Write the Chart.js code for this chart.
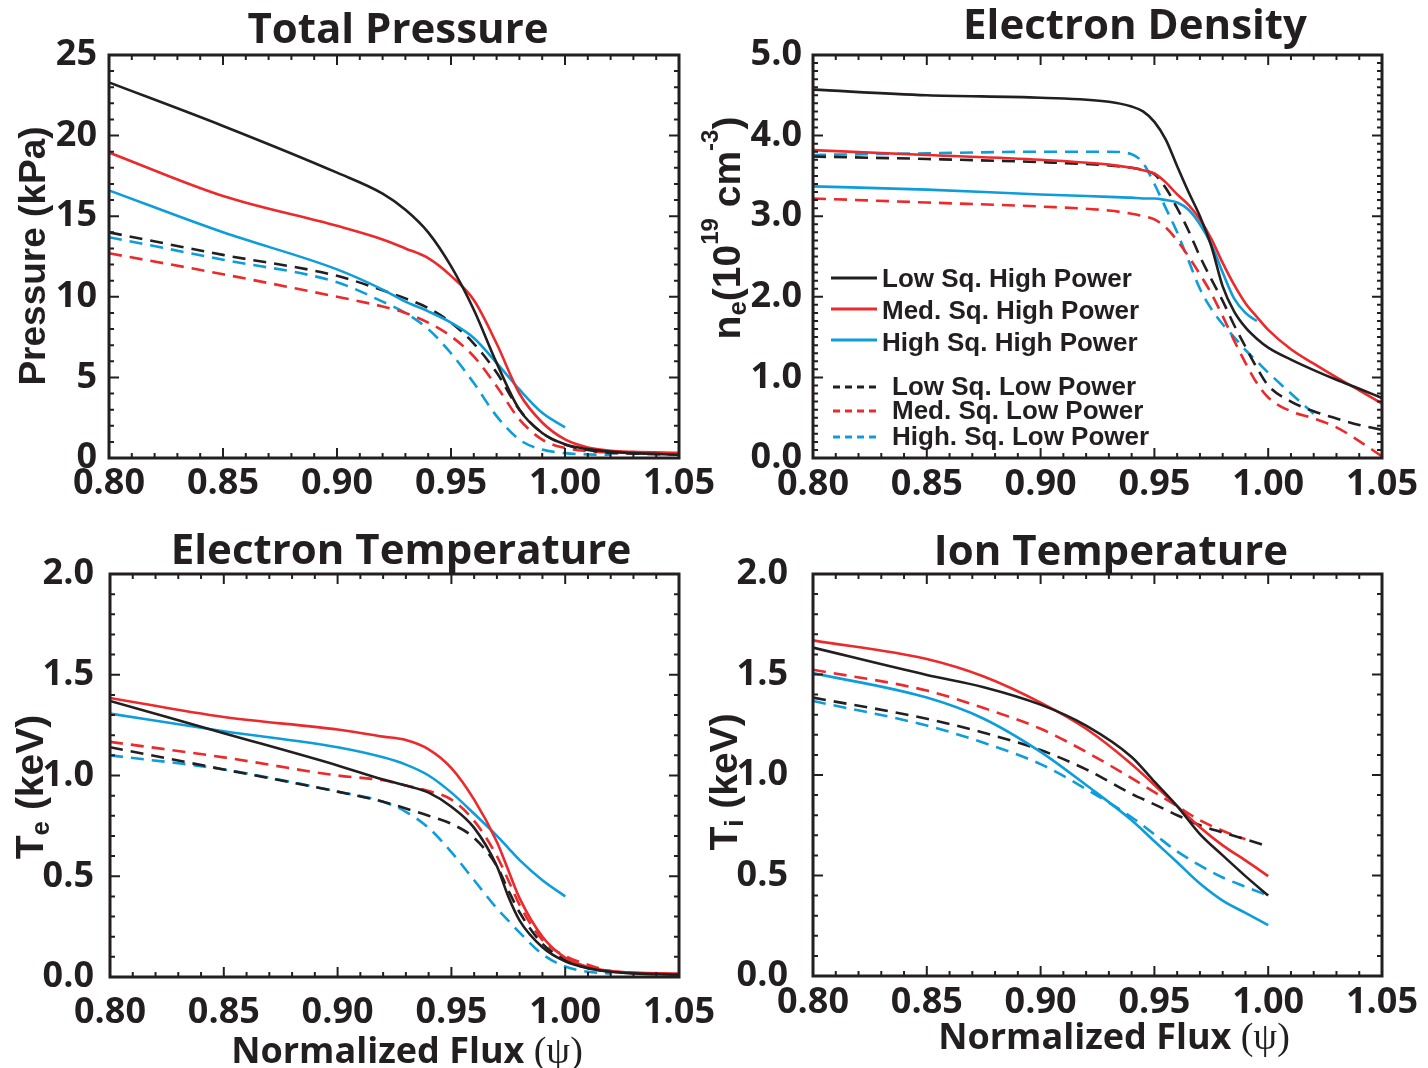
<!DOCTYPE html>
<html>
<head>
<meta charset="utf-8">
<script src="https://cdn.jsdelivr.net/npm/chart.js@4.4.1/dist/chart.umd.min.js"></script>
<style>
html, body { margin: 0; padding: 0; background: #fff; }
#page { position: relative; width: 1428px; height: 1068px; overflow: hidden; }
#page canvas { position: absolute; }
</style>
</head>
<body>
<div id="page">
  <canvas id="pressureChart" width="730" height="520" style="left:0;top:0"></canvas>
  <canvas id="densityChart" width="728" height="520" style="left:700px;top:0"></canvas>
  <canvas id="teChart" width="730" height="548" style="left:0;top:520px"></canvas>
  <canvas id="tiChart" width="728" height="548" style="left:700px;top:520px"></canvas>
</div>
<script>
const INK = '#231f20';
const seriesNames = ['Low Sq. High Power', 'Med. Sq. High Power', 'High Sq. High Power',
                     'Low Sq. Low Power', 'Med. Sq. Low Power', 'High. Sq. Low Power'];
const seriesColors = ['#231f20', '#ec2a2c', '#0d9ddb'];

const psiTicks = [0.80, 0.85, 0.90, 0.95, 1.00, 1.05];
const pressureTicks = [0, 5, 10, 15, 20, 25];
const densityTicks = [0, 1, 2, 3, 4, 5];
const tempTicks = [0, 0.5, 1.0, 1.5, 2.0];

// Total pressure (kPa)
const psiP = [0.80, 0.85, 0.90, 0.92, 0.93, 0.94, 0.95, 0.96, 0.97, 0.98, 0.99, 1.00, 1.01, 1.02, 1.03, 1.05];
const pLowHigh  = [23.3, 20.6, 17.7, 16.4, 15.4, 14.0, 11.9, 9.2, 5.9, 3.0, 1.55, 0.85, 0.55, 0.4, 0.3, 0.2];
const pMedHigh  = [18.95, 16.25, 14.4, 13.56, 13.0, 12.4, 11.3, 9.8, 7.1, 4.0, 2.2, 1.15, 0.65, 0.45, 0.38, 0.32];
const pHighHigh = [16.6, 14.0, 11.7, 10.45, 9.7, 9.1, 8.4, 7.45, 5.9, 4.25, 2.8, 1.9, null, null, null, null];
const pLowLow   = [14.0, 12.6, 11.3, 10.4, 9.9, 9.3, 8.4, 7.1, 5.3, 3.0, 1.55, 0.83, 0.5, 0.32, 0.27, 0.22];
const pMedLow   = [12.7, 11.4, 10.0, 9.4, 9.0, 8.4, 7.55, 6.3, 4.45, 2.4, 1.14, 0.62, 0.42, 0.35, 0.3, 0.26];
const pHighLow  = [13.7, 12.3, 10.9, 9.7, 9.0, 8.0, 6.5, 4.65, 2.6, 1.14, 0.52, 0.3, 0.22, 0.2, null, null];

// Electron density (1e19 m^-3)
const psiN = [0.80, 0.85, 0.90, 0.93, 0.94, 0.945, 0.95, 0.955, 0.96, 0.965, 0.97, 0.975, 0.98, 0.985, 0.99, 0.995, 1.00, 1.01, 1.02, 1.03, 1.04, 1.05];
const nLowHigh  = [4.57, 4.50, 4.47, 4.42, 4.36, 4.30, 4.17, 3.95, 3.62, 3.30, 3.00, 2.63, 2.13, 1.82, 1.62, 1.48, 1.37, 1.22, 1.09, 0.97, 0.86, 0.745];
const nMedHigh  = [3.82, 3.76, 3.70, 3.64, 3.60, 3.57, 3.53, 3.42, 3.27, 3.14, 2.96, 2.72, 2.42, 2.15, 1.92, 1.75, 1.59, 1.35, 1.17, 1.00, 0.84, 0.675];
const nHighHigh = [3.37, 3.33, 3.27, 3.24, 3.23, 3.22, 3.22, 3.20, 3.17, 3.08, 2.90, 2.65, 2.30, 1.98, 1.80, 1.70, null, null, null, null, null, null];
const nLowLow   = [3.74, 3.71, 3.67, 3.63, 3.60, 3.57, 3.52, 3.35, 3.10, 2.82, 2.50, 2.22, 1.95, 1.65, 1.38, 1.12, 0.90, 0.70, 0.58, 0.49, 0.41, 0.35];
const nMedLow   = [3.22, 3.17, 3.12, 3.07, 3.03, 3.00, 2.96, 2.86, 2.70, 2.50, 2.28, 2.04, 1.76, 1.46, 1.18, 0.93, 0.75, 0.58, 0.49, 0.38, 0.21, 0.02];
const nHighLow  = [3.76, 3.78, 3.80, 3.80, 3.77, 3.66, 3.40, 3.10, 2.80, 2.45, 2.10, 1.85, 1.66, 1.50, 1.34, 1.20, 1.06, 0.80, 0.55, null, null, null];

// Electron temperature (keV)
const psiTe = [0.80, 0.85, 0.90, 0.92, 0.93, 0.94, 0.95, 0.96, 0.97, 0.975, 0.98, 0.99, 1.00, 1.01, 1.02, 1.03, 1.05];
const teLowHigh  = [1.37, 1.21, 1.05, 0.98, 0.95, 0.915, 0.845, 0.74, 0.55, 0.40, 0.28, 0.148, 0.078, 0.044, 0.026, 0.018, 0.012];
const teMedHigh  = [1.385, 1.29, 1.228, 1.193, 1.176, 1.13, 1.037, 0.88, 0.67, 0.53, 0.39, 0.20, 0.096, 0.05, 0.03, 0.022, 0.017];
const teHighHigh = [1.307, 1.22, 1.14, 1.09, 1.054, 1.0, 0.915, 0.81, 0.70, 0.64, 0.58, 0.48, 0.40, null, null, null, null];
const teLowLow   = [1.14, 1.03, 0.92, 0.87, 0.836, 0.80, 0.76, 0.69, 0.55, 0.43, 0.32, 0.165, 0.087, 0.044, 0.026, 0.018, 0.012];
const teMedLow   = [1.167, 1.09, 1.0, 0.976, 0.95, 0.923, 0.88, 0.775, 0.60, 0.48, 0.357, 0.183, 0.105, 0.061, 0.03, 0.02, 0.012];
const teHighLow  = [1.10, 1.03, 0.92, 0.87, 0.82, 0.74, 0.62, 0.48, 0.34, 0.28, 0.22, 0.113, 0.052, 0.026, 0.017, null, null];

// Ion temperature (keV)
const psiTi = [0.80, 0.85, 0.875, 0.90, 0.92, 0.94, 0.95, 0.96, 0.97, 0.98, 0.99, 1.00];
const tiLowHigh  = [1.634, 1.498, 1.437, 1.35, 1.246, 1.09, 0.967, 0.845, 0.706, 0.60, 0.497, 0.40];
const tiMedHigh  = [1.67, 1.577, 1.49, 1.36, 1.23, 1.054, 0.95, 0.845, 0.74, 0.65, 0.575, 0.497];
const tiHighHigh = [1.507, 1.385, 1.28, 1.115, 0.95, 0.775, 0.67, 0.566, 0.46, 0.375, 0.314, 0.253];
const tiLowLow   = [1.385, 1.28, 1.21, 1.124, 1.028, 0.906, 0.854, 0.80, 0.75, 0.714, 0.68, 0.645];
const tiMedLow   = [1.524, 1.42, 1.333, 1.23, 1.115, 0.984, 0.915, 0.845, 0.775, 0.723, 0.68, null];
const tiHighLow  = [1.368, 1.246, 1.16, 1.054, 0.93, 0.79, 0.705, 0.62, 0.55, 0.49, 0.444, 0.40];

const TICK_FONT = { family: '"Open Sans", sans-serif', size: 36, weight: 'bold' };

function makeDatasets(psi, cols) {
    return cols.map((vals, i) => ({
        label: seriesNames[i],
        data: psi.map((x, j) => ({ x: x, y: vals[j] })),
        borderColor: seriesColors[i % 3],
        borderWidth: 2.6,
        borderDash: i < 3 ? [] : [13, 8],
        pointRadius: 0,
        cubicInterpolationMode: 'monotone',
        spanGaps: true,
        fill: false,
    }));
}

// inward ticks on all four sides plus the box
const framePlugin = {
    id: 'frame',
    afterDatasetsDraw(chart, args, o) {
        const { ctx, chartArea: a, scales: { x, y } } = chart;
        const steps = (lo, hi, st) => {
            const n = Math.round((hi - lo) / st);
            return Array.from({ length: n + 1 }, (_, k) => lo + k * st);
        };
        const isMajor = (v, m) => Math.abs(v / m - Math.round(v / m)) < 1e-6;
        ctx.save();
        ctx.strokeStyle = INK;
        ctx.lineWidth = 2;
        ctx.beginPath();
        for (const v of steps(x.min, x.max, o.xMinor)) {
            const px = x.getPixelForValue(v);
            const len = isMajor(v, o.xMajor) ? 10 : 5;
            ctx.moveTo(px, a.bottom); ctx.lineTo(px, a.bottom - len);
            ctx.moveTo(px, a.top); ctx.lineTo(px, a.top + len);
        }
        for (const v of steps(y.min, y.max, o.yMinor)) {
            const py = y.getPixelForValue(v);
            const len = isMajor(v, o.yMajor) ? 10 : 5;
            ctx.moveTo(a.left, py); ctx.lineTo(a.left + len, py);
            ctx.moveTo(a.right, py); ctx.lineTo(a.right - len, py);
        }
        ctx.stroke();
        ctx.lineWidth = 3;
        ctx.strokeRect(a.left, a.top, a.width, a.height);
        ctx.restore();
    },
};

// titles, axis titles with sub/superscripts, and the legend
const textPlugin = {
    id: 'texts',
    afterDraw(chart, args, o) {
        const ctx = chart.ctx;
        const [ox, oy] = o.origin;
        ctx.save();
        ctx.fillStyle = INK;
        ctx.textBaseline = 'alphabetic';

        ctx.font = 'bold 42px "Open Sans", sans-serif';
        ctx.textAlign = 'center';
        ctx.fillText(o.title, o.titleAt[0] - ox, o.titleAt[1] - oy);

        const drawParts = (parts, cx, by, rotate) => {
            ctx.save();
            ctx.translate(cx, by);
            if (rotate) ctx.rotate(-Math.PI / 2);
            ctx.textAlign = 'left';
            let total = 0;
            for (const p of parts) { ctx.font = p.font; total += ctx.measureText(p.t).width; }
            let xx = -total / 2;
            for (const p of parts) {
                ctx.font = p.font;
                ctx.fillText(p.t, xx, p.dy || 0);
                xx += ctx.measureText(p.t).width;
            }
            ctx.restore();
        };

        if (o.yTitle) {
            // rotated: first coordinate is baseline x, second is centre y
            drawParts(o.yTitle.parts, o.yTitle.at[0] - ox, o.yTitle.at[1] - oy, true);
        }
        if (o.xTitle) {
            drawParts(o.xTitle.parts, o.xTitle.at[0] - ox, o.xTitle.at[1] - oy, false);
        }

        if (o.legend) {
            const L = o.legend;
            const sets = chart.data.datasets;
            ctx.font = 'bold 26px "Liberation Sans", Arial, sans-serif';
            ctx.textAlign = 'left';
            L.rows.forEach((r, i) => {
                const ds = sets[i];
                const dashed = i >= 3;
                const g = dashed ? L.dashed : L.solid;
                ctx.strokeStyle = ds.borderColor;
                ctx.lineWidth = 3;
                ctx.setLineDash(dashed ? [7, 5] : []);
                ctx.beginPath();
                ctx.moveTo(g.x0 - ox, r.line - oy);
                ctx.lineTo(g.x1 - ox, r.line - oy);
                ctx.stroke();
                ctx.fillText(ds.label, g.text - ox, r.text - oy);
            });
            ctx.setLineDash([]);
        }
        ctx.restore();
    },
};

function makeChart(id, cfg) {
    const canvas = document.getElementById(id);
    const H = canvas.height;
    return new Chart(canvas.getContext('2d'), {
        type: 'line',
        data: { datasets: makeDatasets(cfg.psi, cfg.cols) },
        plugins: [framePlugin, textPlugin],
        options: {
            responsive: false,
            animation: false,
            events: [],
            layout: { padding: { left: 0, top: cfg.area.top, right: canvas.width - cfg.area.right, bottom: 0 } },
            plugins: {
                legend: { display: false },
                tooltip: { enabled: false },
                frame: cfg.frame,
                texts: cfg.texts,
            },
            scales: {
                x: {
                    type: 'linear',
                    min: 0.80,
                    max: 1.05,
                    grid: { display: false, drawTicks: false },
                    border: { display: false },
                    afterBuildTicks: s => { s.ticks = psiTicks.map(v => ({ value: v })); },
                    afterFit: s => { s.height = H - cfg.area.bottom; },
                    ticks: {
                        font: TICK_FONT, color: INK, padding: cfg.xPad,
                        autoSkip: false, maxRotation: 0,
                        callback: v => v.toFixed(2),
                    },
                },
                y: {
                    type: 'linear',
                    min: cfg.yTicks[0],
                    max: cfg.yTicks[cfg.yTicks.length - 1],
                    grid: { display: false, drawTicks: false },
                    border: { display: false },
                    afterBuildTicks: s => { s.ticks = cfg.yTicks.map(v => ({ value: v })); },
                    afterFit: s => { s.width = cfg.area.left; },
                    ticks: {
                        font: TICK_FONT, color: INK, padding: cfg.yPad,
                        autoSkip: false,
                        callback: v => v.toFixed(cfg.yDec),
                    },
                },
            },
        },
    });
}

const AX = '"Liberation Sans", Arial, sans-serif';
const xTitleParts = [
    { t: 'Normalized Flux ', font: 'bold 36px "Open Sans", sans-serif' },
    { t: '(\u03c8)', font: '38px "Liberation Serif", "DejaVu Serif", serif' },
];

makeChart('pressureChart', {
    psi: psiP,
    cols: [pLowHigh, pMedHigh, pHighHigh, pLowLow, pMedLow, pHighLow],
    yTicks: pressureTicks, yDec: 0,
    area: { left: 109, right: 679, top: 55, bottom: 458 },
    xPad: 4, yPad: 12,
    frame: { xMinor: 0.01, xMajor: 0.05, yMinor: 1, yMajor: 5 },
    texts: {
        origin: [0, 0],
        title: 'Total Pressure', titleAt: [398, 43],
        yTitle: { at: [45, 256], parts: [{ t: 'Pressure (kPa)', font: 'bold 37px ' + AX }] },
    },
});

makeChart('densityChart', {
    psi: psiN,
    cols: [nLowHigh, nMedHigh, nHighHigh, nLowLow, nMedLow, nHighLow],
    yTicks: densityTicks, yDec: 1,
    area: { left: 113, right: 682, top: 55, bottom: 458 },
    xPad: 5, yPad: 11,
    frame: { xMinor: 0.01, xMajor: 0.05, yMinor: 0.1, yMajor: 1 },
    texts: {
        origin: [700, 0],
        title: 'Electron Density', titleAt: [1135, 39],
        yTitle: {
            at: [740, 228],
            parts: [
                { t: 'n', font: 'bold 39px ' + AX },
                { t: 'e', font: 'bold 26px ' + AX, dy: 6 },
                { t: '(10', font: 'bold 39px ' + AX },
                { t: '19', font: 'bold 24px ' + AX, dy: -22 },
                { t: ' cm', font: 'bold 39px ' + AX },
                { t: '-3', font: 'bold 24px ' + AX, dy: -22 },
                { t: ')', font: 'bold 39px ' + AX },
            ],
        },
        legend: {
            solid: { x0: 831, x1: 877, text: 882 },
            dashed: { x0: 833, x1: 880, text: 892 },
            rows: [
                { line: 278, text: 287 },
                { line: 309, text: 319 },
                { line: 340, text: 351 },
                { line: 387, text: 395 },
                { line: 411, text: 419 },
                { line: 437, text: 445 },
            ],
        },
    },
});

makeChart('teChart', {
    psi: psiTe,
    cols: [teLowHigh, teMedHigh, teHighHigh, teLowLow, teMedLow, teHighLow],
    yTicks: tempTicks, yDec: 1,
    area: { left: 110, right: 679, top: 54, bottom: 457 },
    xPad: 14, yPad: 16,
    frame: { xMinor: 0.01, xMajor: 0.05, yMinor: 0.1, yMajor: 0.5 },
    texts: {
        origin: [0, 520],
        title: 'Electron Temperature', titleAt: [401, 564],
        yTitle: {
            at: [43, 787],
            parts: [
                { t: 'T', font: 'bold 39px ' + AX },
                { t: 'e', font: 'bold 26px ' + AX, dy: 6 },
                { t: ' (keV)', font: 'bold 39px ' + AX },
            ],
        },
        xTitle: { at: [407, 1063], parts: xTitleParts },
    },
});

makeChart('tiChart', {
    psi: psiTi,
    cols: [tiLowHigh, tiMedHigh, tiHighHigh, tiLowLow, tiMedLow, tiHighLow],
    yTicks: tempTicks, yDec: 1,
    area: { left: 113, right: 682, top: 54, bottom: 456 },
    xPad: 5, yPad: 25,
    frame: { xMinor: 0.01, xMajor: 0.05, yMinor: 0.1, yMajor: 0.5 },
    texts: {
        origin: [700, 520],
        title: 'Ion Temperature', titleAt: [1111, 565],
        yTitle: {
            at: [737, 782],
            parts: [
                { t: 'T', font: 'bold 39px ' + AX },
                { t: 'i', font: 'bold 26px ' + AX, dy: 6 },
                { t: ' (keV)', font: 'bold 39px ' + AX },
            ],
        },
        xTitle: { at: [1114, 1049], parts: xTitleParts },
    },
});
</script>
</body>
</html>
